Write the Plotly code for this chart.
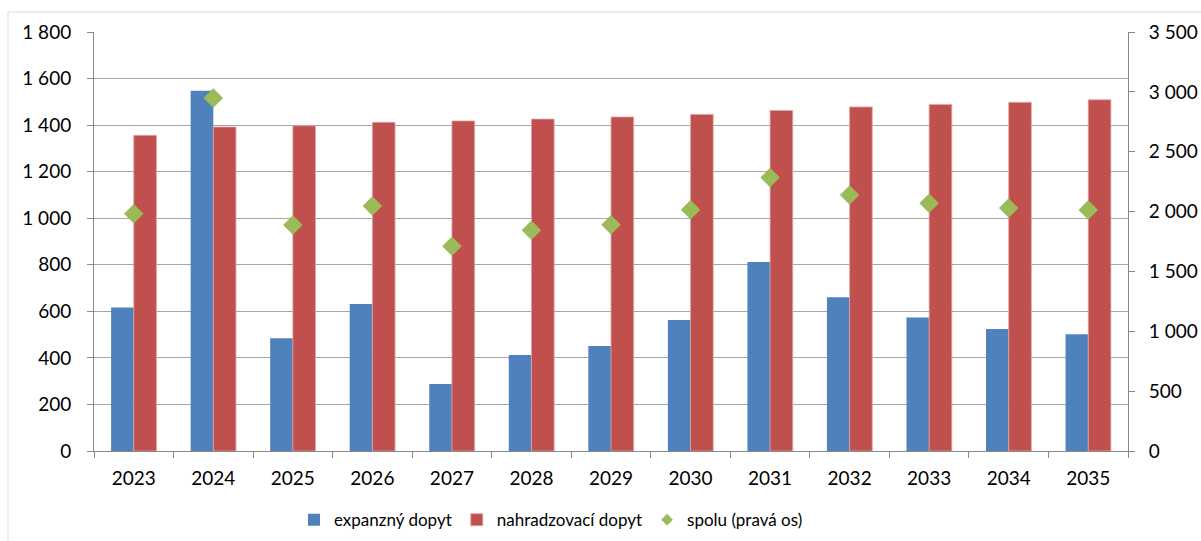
import plotly.graph_objects as go

roky = ["2023", "2024", "2025", "2026", "2027", "2028", "2029", "2030", "2031", "2032", "2033", "2034", "2035"]
expanzny = [617, 1548, 484, 631, 288, 412, 451, 563, 812, 661, 573, 524, 502]
nahradzovaci = [1356, 1392, 1397, 1412, 1418, 1426, 1435, 1446, 1463, 1478, 1489, 1498, 1509]
spolu = [1982, 2948, 1887, 2046, 1711, 1845, 1890, 2016, 2284, 2138, 2069, 2029, 2013]

left_ticks = list(range(0, 1801, 200))
right_ticks = list(range(0, 3501, 500))

FONT = "Lato, Carlito, Calibri, 'Open Sans', sans-serif"
FS = 19
LFS = 17

fig = go.Figure()
fig.add_trace(go.Bar(x=roky, y=expanzny, name="expanzný dopyt",
                     marker=dict(color="#4F81BD", line=dict(width=0))))
fig.add_trace(go.Bar(x=roky, y=nahradzovaci, name="nahradzovací dopyt",
                     marker=dict(color="#C0504D", line=dict(color="#E3A6A4", width=0.8))))
fig.add_trace(go.Scatter(x=roky, y=spolu, name="spolu (pravá os)", mode="markers",
                         yaxis="y2", showlegend=False,
                         marker=dict(symbol="diamond", size=15, color="#9BBB59",
                                     line=dict(width=0))))
# legend-only entry with a smaller diamond symbol
fig.add_trace(go.Scatter(x=[None], y=[None], name="spolu (pravá os)", mode="markers",
                         yaxis="y2", showlegend=True,
                         marker=dict(symbol="diamond", size=9, color="#9BBB59",
                                     line=dict(width=0))))

L, R, T, B = 94, 73, 32, 90
W, H = 1201, 541
pw = W - L - R
ph = H - T - B

fig.update_layout(
    width=W, height=H,
    margin=dict(l=L, r=R, t=T, b=B, autoexpand=False),
    paper_bgcolor="white", plot_bgcolor="white",
    font=dict(family=FONT, size=FS, color="#000000"),
    separators=", ",
    barmode="group", bargap=0.43, bargroupgap=0,
    showlegend=True,
    legend=dict(orientation="h", x=(294 - L) / pw, xanchor="left", y=-0.165, yanchor="middle",
                font=dict(size=LFS), itemwidth=30, traceorder="normal"),
    xaxis=dict(type="category", range=[-0.5, 12.5], showgrid=False, showline=True,
               linecolor="#888888", linewidth=1, ticks="outside", tickson="boundaries",
               ticklen=6, tickcolor="#888888", tickfont=dict(size=FS), ticklabelstandoff=10,
               automargin=False),
    yaxis=dict(range=[0, 1800], tickvals=left_ticks, tickformat=",d",
               showgrid=True, gridcolor="#A6A6A6", gridwidth=1,
               showline=True, linecolor="#888888", linewidth=1,
               ticks="outside", ticklen=6, tickcolor="#888888",
               zeroline=False, tickfont=dict(size=FS), ticklabelstandoff=12,
               automargin=False),
    yaxis2=dict(range=[0, 3500], tickvals=right_ticks, tickformat=",d",
                overlaying="y", side="right", showgrid=False,
                showline=True, linecolor="#888888", linewidth=1,
                ticks="outside", ticklen=6, tickcolor="#888888",
                zeroline=False, tickfont=dict(size=FS), ticklabelstandoff=10,
                automargin=False),
    shapes=[
        dict(type="line", xref="paper", yref="paper",
             x0=(8 - L) / pw, x1=(W - L) / pw, y0=(H - B - 12) / ph, y1=(H - B - 12) / ph,
             line=dict(color="#D9D9D9", width=1)),
        dict(type="line", xref="paper", yref="paper",
             x0=(8 - L) / pw, x1=(8 - L) / pw, y0=(H - B - 12) / ph, y1=-B / ph,
             line=dict(color="#D9D9D9", width=1)),
    ],
)

fig.write_html("out.html", config={"displayModeBar": False},
               post_script="document.body.style.margin='0';document.body.style.overflow='hidden';")
